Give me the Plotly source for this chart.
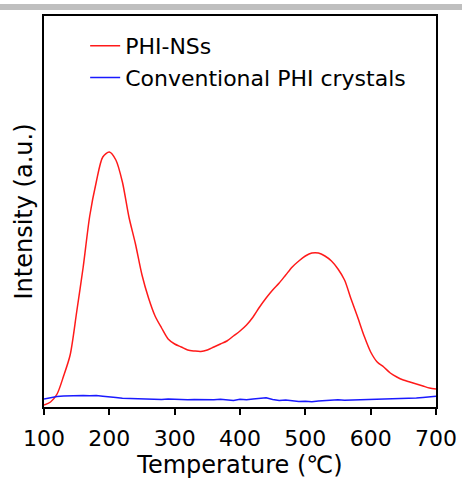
import plotly.graph_objects as go

# Temperature grid (°C) shared by both TPD traces
temperature = [100, 110, 120, 130, 140, 150, 160, 170, 180, 190,
               200, 210, 220, 230, 240, 250, 260, 270, 280, 290,
               300, 310, 320, 330, 340, 350, 360, 370, 380, 390,
               400, 410, 420, 430, 440, 450, 460, 470, 480, 490,
               500, 510, 520, 530, 540, 550, 560, 570, 580, 590,
               600, 610, 620, 630, 640, 650, 660, 670, 680, 690,
               700]

# Signal intensity (a.u.)
phi_ns = [2, 5, 13, 31, 52, 95, 140, 191, 225, 250,
          255, 247, 225, 190, 163, 132, 109, 91, 79, 68,
          63, 60, 57, 56, 55.5, 57, 60, 63, 66, 71,
          76, 82, 90, 100, 109, 117, 124, 132, 140, 146,
          151, 154, 154, 151, 146, 138, 127, 108, 90, 71,
          55, 45, 40, 34, 30, 27, 25, 23, 21, 19,
          18]

phi_crystals = [8, 9.5, 10.5, 11, 11.4, 11.2, 11.6, 11.3, 11.5, 10.8,
                10.4, 9.6, 8.8, 8.6, 8.0, 8.3, 7.7, 8.1, 7.5, 7.9,
                7.5, 7.8, 7.2, 7.6, 7.4, 7.0, 7.3, 7.8, 7.4, 6.6,
                7.8, 7.2, 8.0, 8.6, 9.2, 7.6, 6.4, 6.9, 6.2, 5.6,
                5.8, 5.3, 5.9, 6.3, 6.9, 7.2, 6.8, 7.0, 7.3, 7.0,
                7.2, 7.4, 7.6, 7.9, 8.2, 8.4, 8.7, 9.1, 9.6, 10.3,
                10.8]

fig = go.Figure()
fig.add_trace(go.Scatter(x=temperature, y=phi_ns, mode="lines",
                         name="PHI-NSs",
                         line=dict(color="#ff1a1a", width=1.5,
                                   shape="spline", smoothing=0.8)))
fig.add_trace(go.Scatter(x=temperature, y=phi_crystals, mode="lines",
                         name="Conventional PHI crystals",
                         line=dict(color="#1a1aff", width=1.5)))

# thin grey strip along the top edge of the page
fig.add_shape(type="rect", xref="paper", yref="paper",
              x0=-0.2, x1=1.2, y0=1.0153, y1=1.0307,
              fillcolor="#bfbfbf", line_width=0, layer="above")

fig.update_layout(
    width=462, height=480,
    margin=dict(l=44, r=26, t=16, b=73, autoexpand=False),
    paper_bgcolor="white", plot_bgcolor="white",
    font=dict(family="DejaVu Sans", color="black"),
    showlegend=True,
    legend=dict(x=0.105, y=0.977, xanchor="left", yanchor="top",
                bgcolor="rgba(0,0,0,0)", font=dict(size=22),
                tracegroupgap=0),
    xaxis=dict(range=[100, 700], tickvals=[100, 200, 300, 400, 500, 600, 700],
               ticks="outside", ticklen=6, tickwidth=1.5, tickcolor="black",
               tickfont=dict(size=22), ticklabelstandoff=5, automargin=False,
               showline=True, linecolor="black", linewidth=2, mirror=True,
               showgrid=False, zeroline=False,
               title=dict(text="Temperature (℃)", font=dict(size=24), standoff=2)),
    yaxis=dict(range=[0, 391], showticklabels=False, ticks="", automargin=False,
               showline=True, linecolor="black", linewidth=2, mirror=True,
               showgrid=False, zeroline=False,
               title=dict(text="Intensity (a.u.)", font=dict(size=24), standoff=3)),
)

fig.write_html("out.html")
